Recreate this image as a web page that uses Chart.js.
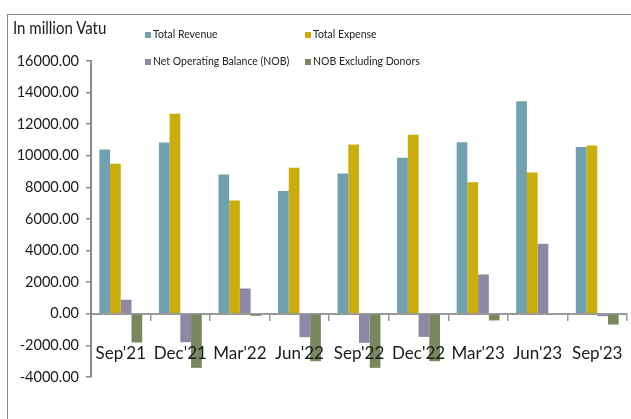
<!DOCTYPE html>
<html>
<head>
<meta charset="utf-8">
<script src="https://cdn.jsdelivr.net/npm/chart.js@4/dist/chart.umd.min.js"></script>
<style>
  html, body { margin: 0; padding: 0; background: #fff; }
  #wrap { position: relative; width: 631px; height: 419px; overflow: hidden; font-family: Lato, "Open Sans", sans-serif; }
  #frame { position: absolute; left: 7px; top: 14px; width: 640px; height: 420px; border-left: 1.5px solid #8a8a8a; border-top: 1.5px solid #8a8a8a; }
  #ytitle { position: absolute; left: 13px; top: 18px; font-size: 16.5px; color: #1a1a1a; white-space: nowrap; transform: scaleX(0.91); transform-origin: 0 0; }
  canvas { position: absolute; left: 0; top: 0; }
  .lg { position: absolute; font-size: 10.5px; color: #222; white-space: nowrap; line-height: 12px; }
  .lg span.box { display: inline-block; width: 6px; height: 6px; margin-right: 2px; vertical-align: 0px; }
</style>
</head>
<body>
<div id="wrap">
  <canvas id="c" width="631" height="419"></canvas>
  <div id="frame"></div>
  <div id="ytitle">In million Vatu</div>
  <div id="legend"></div>
</div>
<script>
const categories = ["Sep'21", "Dec'21", "Mar'22", "Jun'22", "Sep'22", "Dec'22", "Mar'23", "Jun'23", "Sep'23"];
const totalRevenue = [10400, 10840, 8820, 7780, 8880, 9870, 10860, 13460, 10550];
const totalExpense = [9490, 12660, 7170, 9240, 10720, 11330, 8330, 8940, 10650];
const netOperatingBalance = [890, -1800, 1600, -1480, -1840, -1460, 2490, 4430, -150];
const nobExcludingDonors = [-1815, -3420, -130, -3000, -3420, -3000, -420, 0, -680];
const seriesNames = ["Total Revenue", "Total Expense", "Net Operating Balance (NOB)", "NOB Excluding Donors"];
const seriesColors = ["#6fa1b0", "#cbad0b", "#8c88a6", "#78875d"];
const yTickMin = -4000, yTickMax = 16000, yTickStep = 2000;

const seriesData = [totalRevenue, totalExpense, netOperatingBalance, nobExcludingDonors];
const datasets = seriesNames.map((n, i) => ({
  label: n,
  data: seriesData[i],
  backgroundColor: seriesColors[i],
  borderWidth: 0,
  categoryPercentage: 0.72,
  barPercentage: 1.0
}));

// HTML legend (2 columns)
const legendPos = [[145, 28], [305, 28], [145, 55], [305, 55]];
const lg = document.getElementById('legend');
seriesNames.forEach((n, i) => {
  const d = document.createElement('div');
  d.className = 'lg';
  d.style.left = legendPos[i][0] + 'px';
  d.style.top = legendPos[i][1] + 'px';
  d.innerHTML = '<span class="box" style="background:' + seriesColors[i] + '"></span>' + n;
  lg.appendChild(d);
});

new Chart(document.getElementById('c'), {
  type: 'bar',
  data: { labels: categories, datasets },
  options: {
    responsive: false,
    animation: false,
    layout: { padding: { left: 0, right: 4, top: 61, bottom: 42 } },
    plugins: { legend: { display: false }, tooltip: { enabled: false } },
    scales: {
      x: {
        position: { y: 0 },
        offset: true,
        afterFit: (s) => { s.paddingLeft = 0; s.paddingRight = 0; },
        grid: { display: true, drawOnChartArea: false, drawTicks: true, tickLength: 6, offset: true, color: '#999', lineWidth: 1.5 },
        border: { display: true, color: '#9a9a9a', width: 2 },
        ticks: { z: 1, color: '#1a1a1a', font: { family: 'Lato', size: 17 }, padding: 24, maxRotation: 0, autoSkip: false }
      },
      y: {
        min: yTickMin, max: yTickMax,
        afterFit: (s) => { s.width = 91; },
        grid: { display: true, drawOnChartArea: false, drawTicks: true, tickLength: 5, color: '#8a8a8a', lineWidth: 1.5 },
        border: { display: true, color: '#8a8a8a', width: 2 },
        ticks: { stepSize: yTickStep, color: '#1a1a1a', font: { family: 'Lato', size: 14.5 }, padding: 7,
          callback: (v) => Number(v).toFixed(2) }
      }
    }
  }
});
</script>
</body>
</html>
